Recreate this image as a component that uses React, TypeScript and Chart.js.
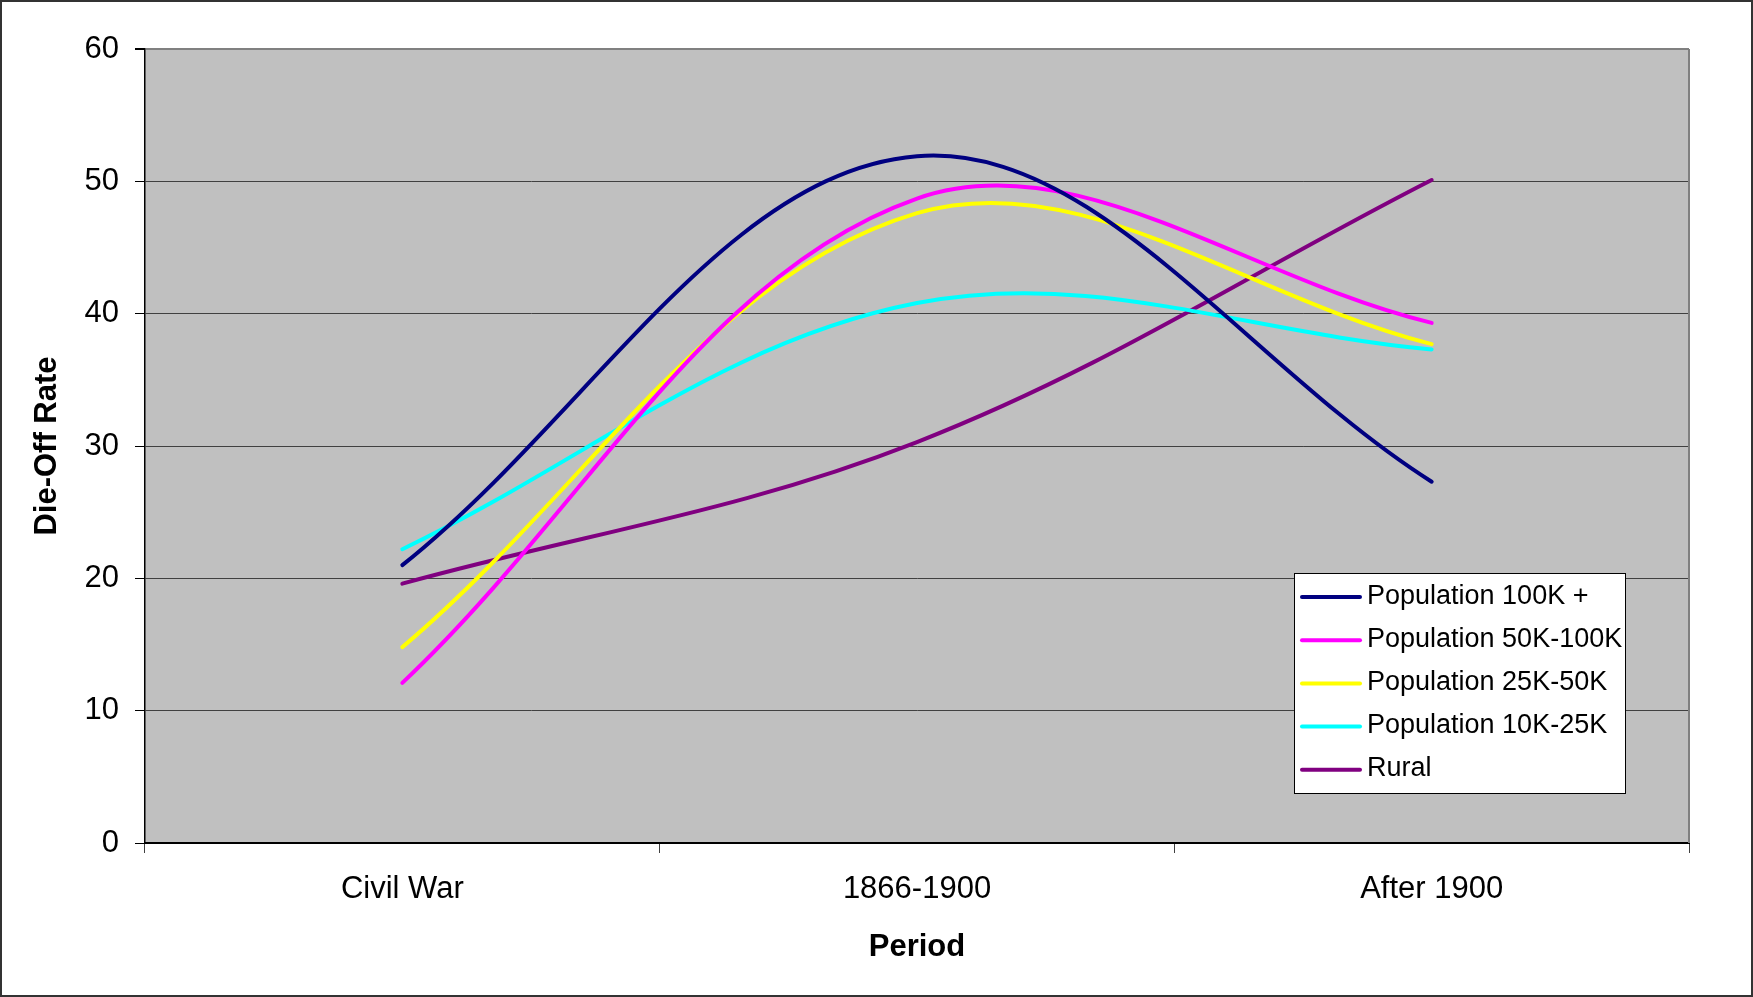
import React, { useEffect, useRef } from "react";
import { Chart, registerables } from "chart.js";

Chart.register(...registerables);

const categories = ["Civil War", "1866-1900", "After 1900"];
const pop100k = [21.0, 51.9, 27.3];
const pop50k = [12.1, 48.7, 39.3];
const pop25k = [14.8, 47.6, 37.7];
const pop10k = [22.2, 40.8, 37.3];
const rural = [19.6, 30.3, 50.1];
const seriesLabels = [
  "Population 100K +",
  "Population 50K-100K",
  "Population 25K-50K",
  "Population 10K-25K",
  "Rural",
];
const seriesColors = ["#000080", "#FF00FF", "#FFFF00", "#00FFFF", "#800080"];
const yMin = 0;
const yMax = 60;
const yStep = 10;
const xTitle = "Period";
const yTitle = "Die-Off Rate";

const FONT = "'Liberation Sans', Arial, sans-serif";
const W = 1753;
const H = 997;

const decorPlugin = {
  id: "decor",
  beforeDraw(chart: any) {
    const { ctx, chartArea: a } = chart;
    ctx.save();
    ctx.fillStyle = "#ffffff";
    ctx.fillRect(0, 0, chart.width, chart.height);
    ctx.fillStyle = "#C0C0C0";
    ctx.fillRect(a.left, a.top, a.right - a.left, a.bottom - a.top);
    ctx.restore();
  },
  afterDraw(chart: any) {
    const { ctx, chartArea: a } = chart;
    ctx.save();
    // right edge of plot area
    ctx.strokeStyle = "#808080";
    ctx.lineWidth = 2;
    ctx.beginPath();
    ctx.moveTo(a.right, a.top);
    ctx.lineTo(a.right, a.bottom);
    ctx.stroke();
    // outer frame
    ctx.strokeStyle = "#333333";
    ctx.lineWidth = 2;
    ctx.strokeRect(1, 1, chart.width - 2, chart.height - 2);

    // legend
    const lx = 1294;
    const ly = 573;
    const lw = 331;
    const lh = 220;
    ctx.fillStyle = "#ffffff";
    ctx.fillRect(lx, ly, lw, lh);
    ctx.strokeStyle = "#000000";
    ctx.lineWidth = 1;
    ctx.strokeRect(lx + 0.5, ly + 0.5, lw, lh);
    ctx.font = `27px ${FONT}`;
    ctx.textBaseline = "alphabetic";
    ctx.textAlign = "left";
    chart.data.datasets.forEach((ds: any, i: number) => {
      const base = 603.5 + i * 43.2;
      const lineY = base - 6.5;
      ctx.strokeStyle = ds.borderColor;
      ctx.lineWidth = 4;
      ctx.lineCap = "round";
      ctx.beginPath();
      ctx.moveTo(lx + 8, lineY);
      ctx.lineTo(lx + 66, lineY);
      ctx.stroke();
      ctx.fillStyle = "#000000";
      ctx.fillText(ds.label, lx + 73, base);
    });
    ctx.restore();
  },
};

export default function App() {
  const ref = useRef<HTMLCanvasElement>(null);

  useEffect(() => {
    const seriesData = [pop100k, pop50k, pop25k, pop10k, rural];
    const chart = new Chart(ref.current as HTMLCanvasElement, {
      type: "line",
      data: {
        labels: categories,
        datasets: seriesData.map((d, i) => ({
          label: seriesLabels[i],
          data: d,
          borderColor: seriesColors[i],
          backgroundColor: seriesColors[i],
          borderWidth: 4,
          borderCapStyle: "round",
          borderJoinStyle: "round",
          tension: 0.36,
          pointRadius: 0,
          fill: false,
        })),
      },
      options: {
        responsive: false,
        animation: false,
        devicePixelRatio: 1,
        layout: { padding: { top: 49, right: 64, left: 0, bottom: 0 } },
        plugins: {
          legend: { display: false },
          tooltip: { enabled: false },
        },
        scales: {
          x: {
            type: "category",
            offset: true,
            grid: {
              display: true,
              offset: true,
              drawOnChartArea: false,
              drawTicks: true,
              tickLength: 10,
              color: "#404040",
              lineWidth: 1,
            },
            border: { display: true, color: "#000000", width: 2 },
            ticks: {
              color: "#000000",
              font: { family: FONT, size: 31 },
              padding: 18,
              maxRotation: 0,
            },
            title: {
              display: true,
              text: xTitle,
              color: "#000000",
              font: { family: FONT, size: 31, weight: "bold" },
              padding: { top: 0, bottom: 31 },
            },
            afterFit: (scale: any) => {
              scale.height = 154;
            },
          },
          y: {
            min: yMin,
            max: yMax,
            grid: {
              display: true,
              drawOnChartArea: true,
              drawTicks: true,
              tickLength: 10,
              color: (c: any) =>
                c.tick && c.tick.value === yMax ? "#808080" : "#404040",
              tickColor: "#000000",
              lineWidth: (c: any) => (c.tick && c.tick.value === yMax ? 2 : 1),
            },
            border: { display: true, color: "#000000", width: 1.5 },
            ticks: {
              stepSize: yStep,
              color: "#000000",
              font: { family: FONT, size: 31 },
              padding: 16,
            },
            title: {
              display: true,
              text: yTitle,
              color: "#000000",
              font: { family: FONT, size: 31, weight: "bold" },
              padding: { top: 29, bottom: 0 },
            },
            afterFit: (scale: any) => {
              scale.width = 145;
            },
          },
        },
      } as any,
      plugins: [decorPlugin],
    });
    return () => chart.destroy();
  }, []);

  return (
    <div
      style={{
        position: "fixed",
        left: 0,
        top: 0,
        width: W,
        height: H,
        background: "#fff",
      }}
    >
      <canvas
        ref={ref}
        width={W}
        height={H}
        style={{ display: "block", width: W, height: H }}
      />
    </div>
  );
}
